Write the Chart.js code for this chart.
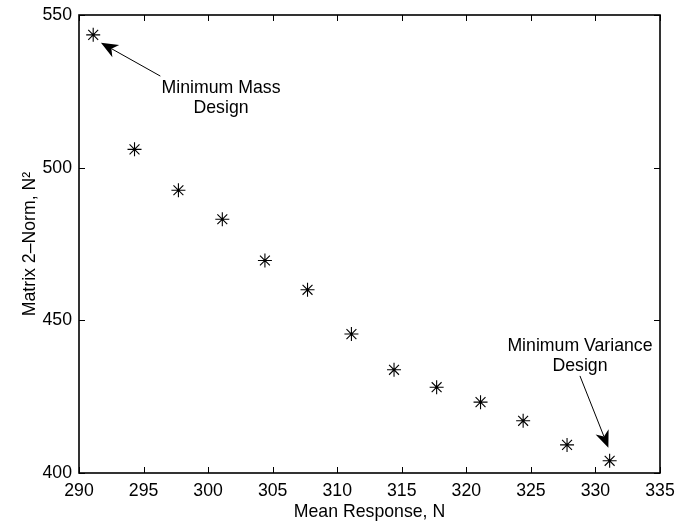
<!DOCTYPE html>
<html><head><meta charset="utf-8">
<script src="https://cdn.jsdelivr.net/npm/chart.js@4/dist/chart.umd.min.js"></script>
<style>html,body{margin:0;padding:0;background:#fff}</style>
</head><body>
<canvas id="c" width="675" height="523" style="width:675px;height:523px;display:block"></canvas>
<script>
// ---- data ----
const meanResponse = [291.1, 294.3, 297.7, 301.1, 304.4, 307.7, 311.1, 314.4, 317.7, 321.1, 324.4, 327.8, 331.1];
const matrixNorm   = [543.5, 506.0, 492.6, 483.1, 469.6, 460.0, 445.5, 433.8, 428.1, 423.2, 417.1, 409.2, 404.0];
const xTickValues  = [290, 295, 300, 305, 310, 315, 320, 325, 330, 335];
const yTickValues  = [400, 450, 500, 550];
const xTitle = "Mean Response, N";
const yTitle = "Matrix 2\u2013Norm, N\u00B2";
// annotations (data coordinates)
const annotationText  = [["Minimum Mass", "Design"], ["Minimum Variance", "Design"]];
const annotationTextAt = [[301.0, 526.1], [328.8, 441.6]];
const arrowFrom = [[296.3, 530.0], [328.8, 431.8]];
const arrowTo   = [[291.7, 540.9], [331.0, 408.3]];

const FONT = '"Liberation Sans", Arial, Helvetica, sans-serif';
const FS = 17.7;

const boxPlugin = {
  id: 'box',
  afterDatasetsDraw(chart) {
    const ctx = chart.ctx, a = chart.chartArea;
    const xs = chart.scales.x, ys = chart.scales.y;
    ctx.save();
    ctx.strokeStyle = '#000';
    ctx.lineWidth = 1;
    const TL = 6;
    ctx.beginPath();
    xTickValues.forEach(v => {
      const px = Math.round(xs.getPixelForValue(v)) + 0.5;
      ctx.moveTo(px, a.bottom); ctx.lineTo(px, a.bottom - TL);
      ctx.moveTo(px, a.top); ctx.lineTo(px, a.top + TL);
    });
    yTickValues.forEach(v => {
      const py = Math.round(ys.getPixelForValue(v)) + 0.5;
      ctx.moveTo(a.left, py); ctx.lineTo(a.left + TL, py);
      ctx.moveTo(a.right, py); ctx.lineTo(a.right - TL, py);
    });
    ctx.stroke();
    ctx.lineWidth = 1.6;
    ctx.strokeRect(a.left, a.top, a.right - a.left, a.bottom - a.top);

    // annotations
    ctx.fillStyle = '#000';
    ctx.font = FS + 'px ' + FONT;
    ctx.textAlign = 'center';
    ctx.textBaseline = 'middle';
    annotationText.forEach((lines, i) => {
      const cx = xs.getPixelForValue(annotationTextAt[i][0]);
      const cy = ys.getPixelForValue(annotationTextAt[i][1]);
      lines.forEach((t, j) => ctx.fillText(t, cx, cy + j * 20.5));
      const x0 = xs.getPixelForValue(arrowFrom[i][0]), y0 = ys.getPixelForValue(arrowFrom[i][1]);
      const x1 = xs.getPixelForValue(arrowTo[i][0]),   y1 = ys.getPixelForValue(arrowTo[i][1]);
      const ang = Math.atan2(y1 - y0, x1 - x0);
      const L = 17, W = 7, N = 12;
      ctx.lineWidth = 1;
      ctx.beginPath();
      ctx.moveTo(x0, y0);
      ctx.lineTo(x1 - N * Math.cos(ang), y1 - N * Math.sin(ang));
      ctx.stroke();
      const bx = x1 - L * Math.cos(ang), by = y1 - L * Math.sin(ang);
      const nx = x1 - N * Math.cos(ang), ny = y1 - N * Math.sin(ang);
      ctx.beginPath();
      ctx.moveTo(x1, y1);
      ctx.lineTo(bx + W * Math.sin(ang), by - W * Math.cos(ang));
      ctx.lineTo(nx, ny);
      ctx.lineTo(bx - W * Math.sin(ang), by + W * Math.cos(ang));
      ctx.closePath();
      ctx.fill();
    });
    ctx.restore();
  }
};

new Chart(document.getElementById('c'), {
  type: 'scatter',
  data: {
    datasets: [{
      data: meanResponse.map((x, i) => ({x, y: matrixNorm[i]})),
      pointStyle: 'star',
      pointRadius: 7,
      pointHoverRadius: 7,
      borderColor: '#000',
      backgroundColor: '#000',
      pointBorderWidth: 1.1,
      showLine: false
    }]
  },
  options: {
    responsive: false,
    devicePixelRatio: 1,
    animation: false,
    events: [],
    layout: { padding: { top: 15, right: 15, left: 0, bottom: 0 } },
    plugins: { legend: { display: false }, tooltip: { enabled: false } },
    scales: {
      x: {
        type: 'linear', min: 290, max: 335,
        afterBuildTicks: s => { s.ticks = xTickValues.map(v => ({ value: v })); },
        afterFit: s => { s.height = 50; s.paddingLeft = 0; s.paddingRight = 0; },
        grid: { display: false, drawTicks: false },
        border: { display: false },
        ticks: { color: '#000', font: { family: FONT, size: FS }, padding: 7, maxRotation: 0, autoSkip: false },
        title: { display: true, text: xTitle, color: '#000', font: { family: FONT, size: FS }, padding: { top: 0, bottom: 0 } }
      },
      y: {
        type: 'linear', min: 400, max: 550,
        afterBuildTicks: s => { s.ticks = yTickValues.map(v => ({ value: v })); },
        afterFit: s => { s.width = 79; s.paddingTop = 0; s.paddingBottom = 0; },
        grid: { display: false, drawTicks: false },
        border: { display: false },
        ticks: { color: '#000', font: { family: FONT, size: FS }, padding: 7, autoSkip: false },
        title: { display: true, text: yTitle, color: '#000', font: { family: FONT, size: FS }, padding: { top: 19, bottom: 0 } }
      }
    }
  },
  plugins: [boxPlugin]
});
</script>
</body></html>
